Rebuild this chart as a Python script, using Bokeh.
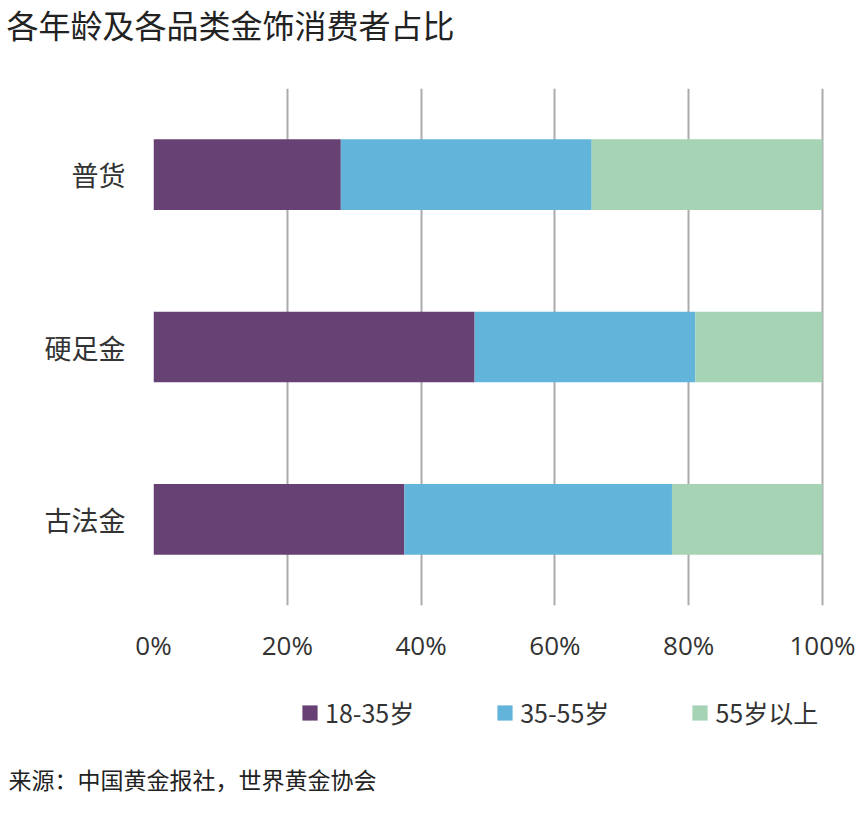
from bokeh.plotting import figure
from bokeh.models import (ColumnDataSource, FactorRange, Legend, LegendItem, NumeralTickFormatter,
                          FixedTicker, Range1d, Title)
from bokeh.layouts import column, Spacer
from bokeh.embed import file_html
from bokeh.resources import INLINE

categories = ["古法金", "硬足金", "普货"]
age_18_35 = [0.375, 0.48, 0.28]
age_35_55 = [0.40, 0.33, 0.375]
age_55_up = [0.225, 0.19, 0.345]
series_names = ["18-35岁", "35-55岁", "55岁以上"]
colors = ["#674173", "#62b4da", "#a5d3b4"]
ticks = [0, 0.2, 0.4, 0.6, 0.8, 1.0]
title_text = "各年龄及各品类金饰消费者占比"
source_text = "来源：中国黄金报社，世界黄金协会"

CJK = "Noto Sans CJK SC"
W = 864
H_HEAD, H_MAIN, H_PAD = 88, 582, 18
H_FOOT = 818 - H_HEAD - H_MAIN - H_PAD


def blank(h):
    f = figure(width=W, height=h, output_backend="svg", toolbar_location=None,
               x_range=Range1d(0, 1), y_range=Range1d(0, 1),
               min_border_left=153, min_border_right=40, min_border_top=0, min_border_bottom=0)
    f.axis.visible = False
    f.grid.visible = False
    f.outline_line_color = None
    f.background_fill_color = "white"
    f.border_fill_color = "white"
    return f


# header with title
head = blank(H_HEAD)
head.title.text = title_text
head.title.text_font = CJK
head.title.text_font_size = "32px"
head.title.text_font_style = "normal"
head.title.text_color = "#222222"
head.title.align = "left"
head.title.vertical_align = "top"
head.title.text_line_height = 0.8
head.title.offset = -147
head.title.standoff = 0

# main chart
source = ColumnDataSource(dict(cat=categories, a=age_18_35, b=age_35_55, c=age_55_up))
p = figure(width=W, height=H_MAIN, output_backend="svg", toolbar_location=None,
           y_range=FactorRange(*categories), x_range=(0, 1.003),
           min_border_left=153, min_border_right=40, min_border_top=0, min_border_bottom=65)
p.outline_line_color = None
p.background_fill_color = "white"
p.border_fill_color = "white"

p.hbar_stack(["a", "b", "c"], y="cat", height=0.41, color=colors, line_color=None, source=source)

p.ygrid.grid_line_color = None
p.xgrid.grid_line_color = "#ababab"
p.xgrid.grid_line_width = 2
p.xgrid.ticker = FixedTicker(ticks=ticks)
p.xgrid.level = "underlay"

p.xaxis.ticker = FixedTicker(ticks=ticks)
p.xaxis.formatter = NumeralTickFormatter(format="0%")
p.xaxis.axis_line_color = None
p.xaxis.major_tick_line_color = None
p.xaxis.major_tick_out = 0
p.xaxis.minor_tick_line_color = None
p.xaxis.minor_tick_out = 0
p.xaxis.major_label_text_font = "Open Sans"
p.xaxis.major_label_text_font_size = "26px"
p.xaxis.major_label_text_color = "#333333"
p.xaxis.major_label_standoff = 21

p.yaxis.axis_line_color = None
p.yaxis.major_tick_line_color = None
p.yaxis.major_tick_out = 0
p.yaxis.minor_tick_line_color = None
p.yaxis.minor_tick_out = 0
p.yaxis.major_label_text_font = CJK
p.yaxis.major_label_text_font_size = "27px"
p.yaxis.major_label_text_color = "#333333"
p.yaxis.major_label_standoff = 28

# footer with legend and source
foot = blank(H_FOOT)
nan = float("nan")
swatch_src = ColumnDataSource(dict(l=[nan], r=[nan], b=[nan], t=[nan]))
swatches = [foot.quad(left="l", right="r", bottom="b", top="t", source=swatch_src,
                      fill_color=c, line_color=None) for c in colors]
legend = Legend(items=[LegendItem(label=n, renderers=[r]) for n, r in zip(series_names, swatches)],
                orientation="horizontal", location=(147, 24),
                glyph_width=19, glyph_height=19, label_standoff=6, spacing=81, label_height=30,
                padding=0, margin=0, border_line_color=None, background_fill_alpha=0,
                label_text_font=CJK, label_text_font_size="25px", label_text_color="#333333")
foot.add_layout(legend)
src = Title(text=source_text, align="left", offset=-145, standoff=10,
            text_font=CJK, text_font_size="23px", text_font_style="normal", text_color="#222222")
foot.add_layout(src, "below")

layout = column(head, p, foot, Spacer(width=W, height=H_PAD), spacing=0)
open("out.html", "w").write(file_html(layout, INLINE))
